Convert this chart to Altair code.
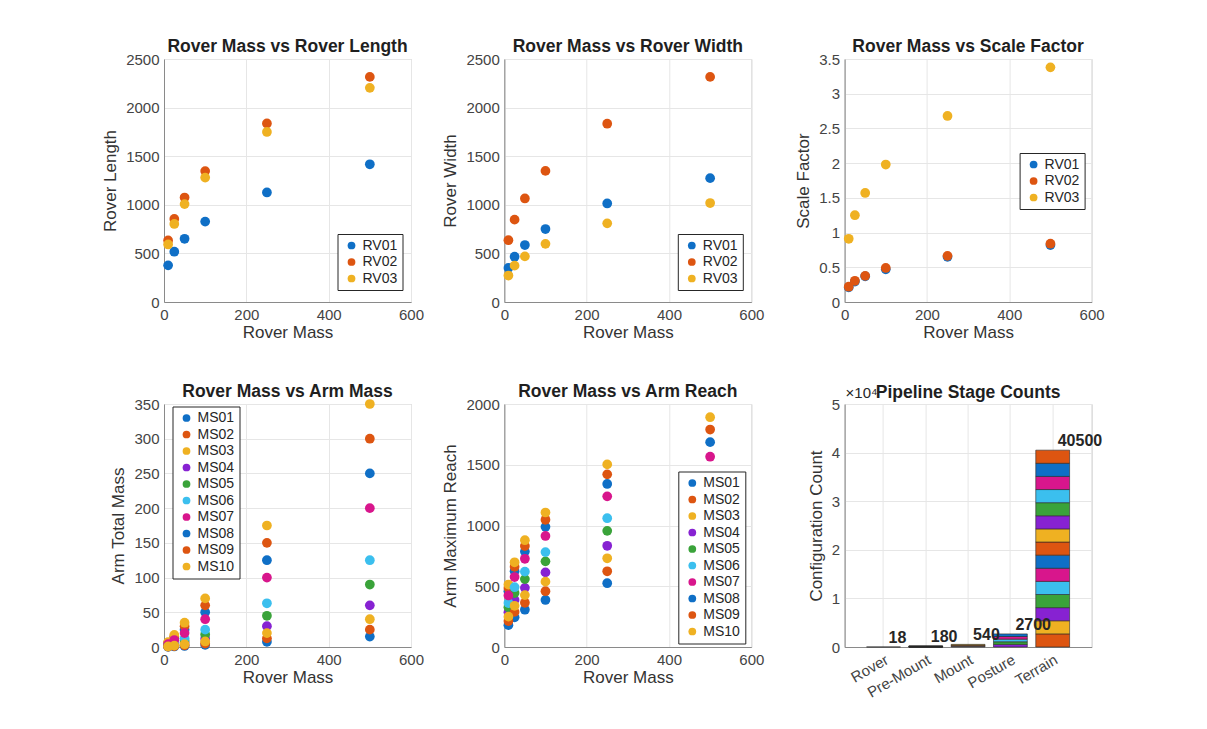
import altair as alt
import pandas as pd

FONT = "Liberation Sans"

# ---------------- data ----------------
rover_mass = [10, 25, 50, 100, 250, 500]
rovers = ["RV01", "RV02", "RV03"]
rover_length = {
    "RV01": [377, 517, 650, 827, 1127, 1417],
    "RV02": [633, 854, 1075, 1347, 1837, 2316],
    "RV03": [592, 803, 1007, 1280, 1749, 2203],
}
rover_width = {
    "RV01": [351, 466, 586, 751, 1014, 1274],
    "RV02": [636, 847, 1065, 1349, 1834, 2316],
    "RV03": [272, 374, 469, 598, 809, 1018],
}
scale_factor = {
    "RV01": [0.21, 0.295, 0.37, 0.47, 0.65, 0.82],
    "RV02": [0.22, 0.306, 0.377, 0.49, 0.665, 0.84],
    "RV03": [0.91, 1.25, 1.57, 1.98, 2.68, 3.38],
}
arms = ["MS01", "MS02", "MS03", "MS04", "MS05", "MS06", "MS07", "MS08", "MS09", "MS10"]
arm_mass = {
    "MS01": [5, 12.5, 25, 50, 125, 250],
    "MS02": [6, 15, 30, 60, 150, 300],
    "MS03": [7, 17.5, 35, 70, 175, 350],
    "MS04": [1.2, 3, 6, 12, 30, 60],
    "MS05": [1.8, 4.5, 9, 18, 45, 90],
    "MS06": [2.5, 6.3, 12.5, 25, 63, 125],
    "MS07": [4, 10, 20, 40, 100, 200],
    "MS08": [0.3, 0.8, 1.5, 3, 7.5, 15],
    "MS09": [0.5, 1.3, 2.5, 5, 12.5, 25],
    "MS10": [0.8, 2, 4, 8, 20, 40],
}
arm_reach = {
    "MS01": [459, 623, 785, 989, 1342, 1686],
    "MS02": [486, 660, 831, 1047, 1421, 1790],
    "MS03": [514, 697, 879, 1107, 1503, 1891],
    "MS04": [285, 387, 487, 614, 833, 1050],
    "MS05": [327, 444, 559, 705, 956, 1204],
    "MS06": [362, 492, 620, 781, 1060, 1336],
    "MS07": [424, 576, 726, 914, 1240, 1566],
    "MS08": [180, 244, 307, 387, 525, 661],
    "MS09": [213, 289, 364, 459, 623, 785],
    "MS10": [250, 339, 427, 538, 730, 920],
}
stages = ["Rover", "Pre-Mount", "Mount", "Posture", "Terrain"]
stage_counts = [18, 180, 540, 2700, 40500]
# stacked segments (bottom to top) per stage: segment values and colour names
stage_segments = {
    "Rover": [18],
    "Pre-Mount": [18] * 10,
    "Mount": [180] * 3,
    "Posture": [540] * 5,
    "Terrain": [2700] * 15,
}
stage_segment_colors = {
    "Rover": ["purple"],
    "Pre-Mount": ["green", "cyan", "magenta", "blue", "orange", "yellow", "purple", "green", "cyan", "magenta"],
    "Mount": ["blue", "orange", "yellow"],
    "Posture": ["purple", "green", "cyan", "magenta", "blue"],
    "Terrain": ["orange", "yellow", "purple", "green", "cyan", "magenta", "blue",
                "orange", "yellow", "purple", "green", "cyan", "magenta", "blue", "orange"],
}

palette = {
    "blue": "#0f6fc6",
    "orange": "#dd5511",
    "yellow": "#efb122",
    "purple": "#8722d2",
    "green": "#3aa33a",
    "cyan": "#3bbfee",
    "magenta": "#d8168c",
}
rv_colors = [palette["blue"], palette["orange"], palette["yellow"]]
ms_colors = [palette[c] for c in ["blue", "orange", "yellow", "purple", "green",
                                   "cyan", "magenta", "blue", "orange", "yellow"]]

W, H = 247, 243


def long_table(series_names, values):
    rows = []
    for s in series_names:
        for m, v in zip(rover_mass, values[s]):
            rows.append({"series": s, "mass": m, "value": v})
    return pd.DataFrame(rows)


def legend(x, y):
    return alt.Legend(
        title=None, orient="none", legendX=x, legendY=y,
        fillColor="white", strokeColor="#262626",
        padding=4.5, rowPadding=2.5, symbolType="circle", symbolSize=60,
        symbolOffset=2.5, labelOffset=4, labelFontSize=14, labelFont=FONT,
        labelColor="#262626", symbolStrokeWidth=0, symbolOpacity=1,
    )


def scatter(series_names, values, colors, title, ytitle, ydomain, yvalues, yfmt, lx, ly):
    df = long_table(series_names, values)
    return alt.Chart(df).mark_circle(size=95, opacity=1).encode(
        x=alt.X("mass:Q", title="Rover Mass",
                scale=alt.Scale(domain=[0, 600], nice=False, zero=False),
                axis=alt.Axis(values=[0, 200, 400, 600], labelFlush=False)),
        y=alt.Y("value:Q", title=ytitle,
                scale=alt.Scale(domain=ydomain, nice=False, zero=False),
                axis=alt.Axis(values=yvalues, format=yfmt)),
        color=alt.Color("series:N", scale=alt.Scale(domain=series_names, range=colors),
                        legend=legend(lx, ly)),
    ).properties(width=W, height=H, title=alt.TitleParams(title, offset=-3))


p1 = scatter(rovers, rover_length, rv_colors, "Rover Mass vs Rover Length", "Rover Length",
             [0, 2500], [0, 500, 1000, 1500, 2000, 2500], "d", 173.5, 175)
p2 = scatter(rovers, rover_width, rv_colors, "Rover Mass vs Rover Width", "Rover Width",
             [0, 2500], [0, 500, 1000, 1500, 2000, 2500], "d", 173.5, 175)
p3 = scatter(rovers, scale_factor, rv_colors, "Rover Mass vs Scale Factor", "Scale Factor",
             [0, 3.5], [0, 0.5, 1, 1.5, 2, 2.5, 3, 3.5], "~g", 175, 94)
p4 = scatter(arms, arm_mass, ms_colors, "Rover Mass vs Arm Mass", "Arm Total Mass",
             [0, 350], [0, 50, 100, 150, 200, 250, 300, 350], "d", 8.5, 2.5)
p5 = scatter(arms, arm_reach, ms_colors, "Rover Mass vs Arm Reach", "Arm Maximum Reach",
             [0, 2000], [0, 500, 1000, 1500, 2000], "d", 174, 67.5)

# ---------------- bar chart ----------------
seg_rows = []
for st in stages:
    for i, (v, c) in enumerate(zip(stage_segments[st], stage_segment_colors[st])):
        seg_rows.append({"stage": st, "seg": i, "value": v, "color": palette[c]})
seg_df = pd.DataFrame(seg_rows)
tot_df = pd.DataFrame({"stage": stages, "total": stage_counts, "label": [str(v) for v in stage_counts]})

xenc = alt.X("stage:N", sort=stages, title=None,
             scale=alt.Scale(domain=stages, paddingInner=0.2, paddingOuter=0.52),
             axis=alt.Axis(labelAngle=330, labelAlign="right", labelBaseline="top"))

bars = alt.Chart(seg_df).mark_bar(stroke="#262626", strokeWidth=0.6).encode(
    x=xenc,
    y=alt.Y("sum(value):Q", title="Configuration Count",
            scale=alt.Scale(domain=[0, 50000], nice=False),
            axis=alt.Axis(values=[0, 10000, 20000, 30000, 40000, 50000],
                          labelExpr="format(datum.value / 10000, 'd')")),
    color=alt.Color("color:N", scale=None),
    order=alt.Order("seg:Q", sort="ascending"),
)
labels = alt.Chart(tot_df).mark_text(
    align="left", baseline="alphabetic", dx=5, dy=-4, fontSize=16, fontWeight="bold",
    font=FONT, color="#262626",
).encode(x=alt.X("stage:N", sort=stages), y=alt.Y("total:Q"), text="label:N")
expo = alt.Chart(pd.DataFrame({"t": ["×10⁴"]})).mark_text(
    align="left", baseline="alphabetic", fontSize=15, font=FONT, color="#262626",
).encode(x=alt.value(1), y=alt.value(-6), text="t:N")

p6 = alt.layer(bars, labels, expo).properties(
    width=W, height=H, title=alt.TitleParams("Pipeline Stage Counts", offset=-15))

chart = alt.concat(
    p1, p2, p3, p4, p5, p6, columns=3,
    spacing=alt.RowColnumber(row=102, column=93.3), bounds="flush",
).resolve_scale(color="independent").resolve_legend(color="independent").properties(
    padding={"left": 101, "top": 37, "right": 20, "bottom": 10},
    background="white",
).configure_axis(
    labelFont=FONT, labelFontSize=15, labelColor="#444444",
    titleFont=FONT, titleFontSize=17, titleFontWeight="normal", titleColor="#333333",
    titlePadding=6, labelPadding=5, ticks=False,
    grid=True, gridColor="#e6e6e6", gridWidth=1,
    domainColor="#8a8a8a", domainWidth=1,
).configure_axisX(titlePadding=2).configure_view(
    stroke="#c9c9c9", strokeWidth=1,
).configure_title(
    font=FONT, fontSize=17.5, fontWeight="bold", color="#1f1f1f", anchor="middle",
)

chart.save("out.html", embed_options={"renderer": "svg", "actions": False})
